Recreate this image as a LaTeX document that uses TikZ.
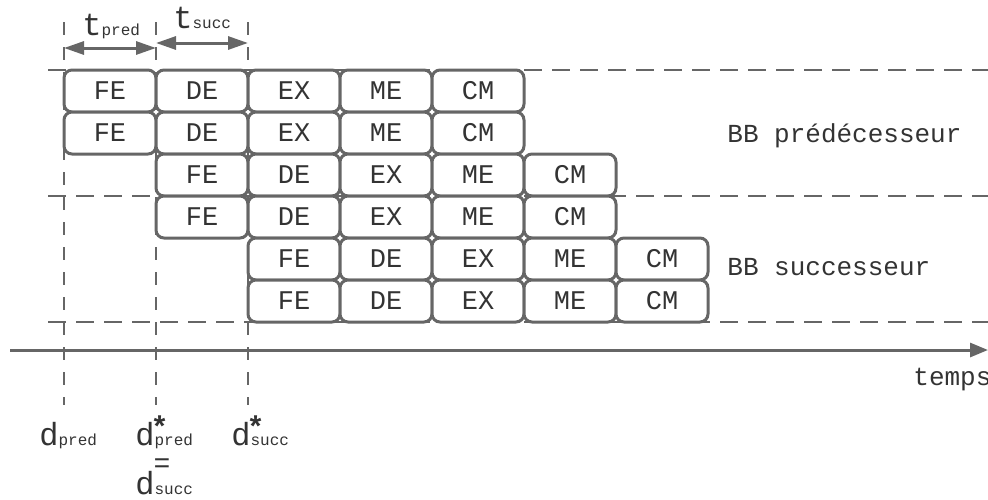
\documentclass[tikz,border=0pt]{standalone}
\usepackage{fontspec}
\setmonofont{Liberation Mono}
\usetikzlibrary{arrows.meta}

\definecolor{linegray}{HTML}{666666}
\definecolor{textgray}{HTML}{333333}

% labels d and t with a small index
\newcommand{\symd}[1]{{\fontsize{16}{16}\selectfont d}{\fontsize{8}{8}\selectfont #1}}
\newcommand{\symdstar}[1]{{\fontsize{16}{16}\selectfont d}\rlap{\kern-2pt\raisebox{4pt}{\fontsize{15}{15}\selectfont\bfseries *}}{\fontsize{8}{8}\selectfont #1}}
\newcommand{\symt}[1]{{\fontsize{16}{16}\selectfont t}{\fontsize{8}{8}\selectfont #1}}

\tikzset{
  stage/.style={draw=linegray, line width=1.5pt, rounded corners=4pt, fill=white,
    minimum width=46pt, minimum height=21pt, inner sep=0pt, outer sep=0pt,
    anchor=north west, text=textgray, font=\ttfamily\fontsize{13.5}{13.5}\selectfont},
  bbline/.style={draw=linegray, line width=1.2pt, dash pattern=on 9pt off 5pt},
  cutline/.style={draw=linegray, line width=1.2pt, dash pattern=on 6.5pt off 6pt},
  dimarrow/.style={draw=linegray, line width=1.5pt,
    {Triangle[length=10pt,width=6.5pt]}-{Triangle[length=10pt,width=6.5pt]}},
  timeaxis/.style={draw=linegray, line width=1.5pt, -{Triangle[length=9pt,width=7pt]}},
  lab/.style={inner sep=0pt, text=textgray, font=\ttfamily},
  bblab/.style={lab, anchor=base west, font=\ttfamily\fontsize{13}{13}\selectfont},
}

\begin{document}
\begin{tikzpicture}[x=0.5pt, y=-0.5pt]
    \useasboundingbox (0,0) rectangle (988,499);

    % block boundaries
    \foreach \y [count=\i] in {70,196,322} {
        \coordinate (bbL\i) at (48,\y);
        \coordinate (bbR\i) at (988,\y);
        \draw[bbline] (bbL\i) -- (bbR\i);
    }

    % start dates
    \foreach \x [count=\i] in {64,156,248} {
        \coordinate (top\i) at (\x,22);
        \coordinate (bot\i) at (\x,405);
        \draw[cutline] (top\i) -- (bot\i);
    }

    % pipeline stages
    \foreach \r in {0,...,5} {
        \pgfmathtruncatemacro\col{\r/2}
        \foreach \s [count=\k from 0] in {FE,DE,EX,ME,CM} {
            \node[stage] (s\r\k) at ({64+92*(\col+\k)},{70+42*\r}) {\s};
        }
    }

    % durations
    \coordinate (pa) at (64,48);
    \coordinate (pb) at (156,48);
    \coordinate (sa) at (156,43);
    \coordinate (sb) at (248,43);
    \draw[dimarrow] (pa) -- (pb);
    \draw[dimarrow] (sa) -- (sb);
    \node[lab, anchor=base west] (tpred) at (82,35) {\symt{pred}};
    \node[lab, anchor=base west] (tsucc) at (173,28) {\symt{succ}};

    % time axis
    \coordinate (axL) at (10,350);
    \coordinate (axR) at (988,350);
    \draw[timeaxis] (axL) -- (axR);
    \node[bblab] (temps) at (913,385) {temps};

    % block names
    \node[bblab] (pred) at (727,142) {BB prédécesseur};
    \node[bblab] (succ) at (727,275) {BB successeur};

    % dates
    \node[lab, anchor=base west] (dpred) at (39,445) {\symd{pred}};
    \node[lab, anchor=base west] (dpreds) at (135,445) {\symdstar{pred}};
    \node[lab, font=\ttfamily\fontsize{14}{14}\selectfont] (eq) at (162,466) {=};
    \node[lab, anchor=base west] (dsucc) at (135,494) {\symd{succ}};
    \node[lab, anchor=base west] (dsuccs) at (231,445) {\symdstar{succ}};
\end{tikzpicture}
\end{document}
